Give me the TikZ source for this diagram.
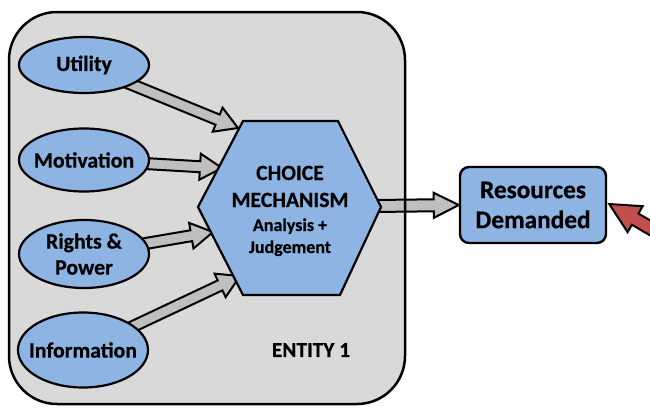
\documentclass[tikz,border=0pt]{standalone}
\usepackage{fontspec}
\setmainfont{Carlito}[BoldFeatures={FakeBold=0.6}]
\usetikzlibrary{calc,shapes.geometric}
\definecolor{bluefill}{RGB}{141,180,226}
\definecolor{panelgray}{RGB}{217,217,217}
\definecolor{arrowgray}{RGB}{191,191,191}
\definecolor{arrowred}{RGB}{192,80,77}
\pgfdeclarelayer{back}
\pgfdeclarelayer{mid}
\pgfsetlayers{back,mid,main}
% #1 colour, #2 shaft half width, #3 head half width, #4 head length, #5 from, #6 to
\newcommand\blockarrow[6]{%
  \filldraw[fill=#1, draw=black, line width=2pt, line join=miter]
    let \p1=#5, \p2=#6, \n1={atan2(\y2-\y1,\x2-\x1)}, \n2={veclen(\x2-\x1,\y2-\y1)}, \n3={\n2-#4pt}
    in [shift={(\p1)}, rotate=\n1]
    (0pt,-#2pt) -- (\n3,-#2pt) -- (\n3,-#3pt) -- (\n2,0pt) -- (\n3,#3pt) -- (\n3,#2pt) -- (0pt,#2pt) -- cycle;}
\tikzset{
  factor/.style={ellipse, draw=black, line width=2.2pt, fill=bluefill, inner xsep=-14pt, inner ysep=-8pt,
    minimum width=130pt, font=\bfseries\fontsize{21.8}{26}\selectfont, align=center},
  resbox/.style={rectangle, rounded corners=9pt, draw=black, line width=2.4pt, fill=bluefill,
    minimum width=146pt, minimum height=76pt, inner sep=0pt, align=center,
    font=\bfseries\fontsize{25.3}{30}\selectfont},
  hexline/.style={draw=black, line width=2.2pt, fill=bluefill, line join=miter},
  bigtxt/.style={anchor=base, inner sep=0pt, font=\bfseries\fontsize{21.7}{26}\selectfont},
  smalltxt/.style={anchor=base, inner sep=0pt, font=\bfseries\fontsize{18}{22}\selectfont},
  panel/.style={rounded corners=48pt, line width=2.5pt},
}
\begin{document}
\begin{tikzpicture}[x=1pt, y=-1pt]
\useasboundingbox (0,0) rectangle (650,407);
\clip (0,0) rectangle (650,407);
% panel
\begin{pgfonlayer}{back}
\fill[white] (0,0) rectangle (650,407);
\fill[panel, panelgray] (9,12) rectangle (405,404);
\end{pgfonlayer}
\draw[panel, black] (9,12) rectangle (405,404);
% hexagon vertices
\coordinate (hl) at (198,207);
\coordinate (htl) at (243,121);
\coordinate (htr) at (338,121);
\coordinate (hr) at (381,207);
\coordinate (hbr) at (340,295);
\coordinate (hbl) at (243,295);
\draw[hexline] (hl) -- (htl) -- (htr) -- (hr) -- (hbr) -- (hbl) -- cycle;
\node[bigtxt] (hexA) at (290,180) {CHOICE};
\node[bigtxt] (hexB) at (290,207) {MECHANISM};
\node[smalltxt] (hexC) at (290,231) {Analysis +};
\node[smalltxt] (hexD) at (290,253) {Judgement};
\coordinate (hex) at (290,207);
% factors
\node[factor, minimum height=56pt] (util) at (84,65) {Utility};
\node[factor, minimum height=63pt] (motiv) at (84,160) {Motivation};
\node[factor, minimum height=68pt] (rights) at (84,254) {Rights \&\\Power};
\node[factor, minimum height=75pt] (info) at (83,350) {Information};
% resources
\node[resbox] (res) at (533,205) {Resources\\Demanded};
% entity label
\node[font=\bfseries\fontsize{21.4}{24}\selectfont] (entity) at (311,350) {ENTITY 1};
% arrow tips on hexagon
\coordinate (tipU) at (238,128);
\coordinate (tipM) at (222,168);
\coordinate (tipR) at (213,232);
\coordinate (tipI) at (240,276);
\coordinate (redtail) at (700,257);
\begin{pgfonlayer}{mid}
\blockarrow{arrowgray}{5.5}{13}{22}{(util.center)}{(tipU)}
\blockarrow{arrowgray}{5.5}{13}{22}{(motiv.center)}{(tipM)}
\blockarrow{arrowgray}{5.5}{13}{22}{(rights.center)}{(tipR)}
\blockarrow{arrowgray}{5.5}{13}{22}{(info.center)}{(tipI)}
\blockarrow{arrowgray}{6}{12.5}{25}{(hex)}{(res.west)}
\end{pgfonlayer}
\blockarrow{arrowred}{6.5}{15}{30}{(redtail)}{($(res.east)+(2pt,1pt)$)}
\end{tikzpicture}
\end{document}
